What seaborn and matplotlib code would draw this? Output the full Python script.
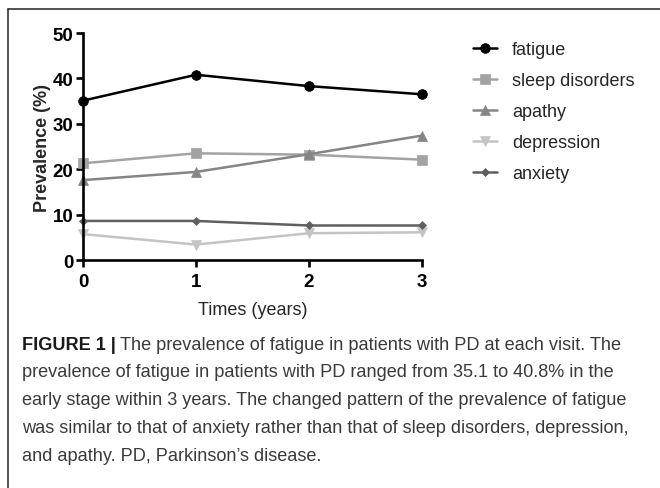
import numpy as np
import pandas as pd
import matplotlib
matplotlib.use("Agg")
import matplotlib.pyplot as plt
import seaborn as sns
from matplotlib.lines import Line2D

# data
years = [0, 1, 2, 3]
symptoms = ["fatigue", "sleep disorders", "apathy", "depression", "anxiety"]
fatigue = [35.1, 40.8, 38.3, 36.5]
sleep_disorders = [21.3, 23.5, 23.2, 22.1]
apathy = [17.6, 19.4, 23.3, 27.4]
depression = [5.7, 3.4, 5.9, 6.1]
anxiety = [8.6, 8.6, 7.6, 7.6]

colors = ["#000000", "#a3a3a3", "#858585", "#c4c4c4", "#5f5f5f"]
markers = ["o", "s", "^", "v", "D"]
msizes = [7, 6.5, 6.5, 6.5, 4.5]

caption = [
    "The prevalence of fatigue in patients with PD at each visit. The",
    "prevalence of fatigue in patients with PD ranged from 35.1 to 40.8% in the",
    "early stage within 3 years. The changed pattern of the prevalence of fatigue",
    "was similar to that of anxiety rather than that of sleep disorders, depression,",
    "and apathy. PD, Parkinson\u2019s disease.",
]

sns.set_style("ticks")
plt.rcParams["font.family"] = ["Liberation Sans", "DejaVu Sans"]

df = pd.DataFrame({
    "year": years * 5,
    "value": fatigue + sleep_disorders + apathy + depression + anxiety,
    "symptom": np.repeat(symptoms, len(years)),
})

W, H = 660, 489
fig = plt.figure(figsize=(W / 100, H / 100), dpi=100)
ax = fig.add_axes([83 / W, 1 - 261 / H, (422 - 83) / W, (261 - 34) / H])

for name, c, m, ms in zip(symptoms, colors, markers, msizes):
    sub = df[df["symptom"] == name]
    sns.lineplot(data=sub, x="year", y="value", color=c, marker=m,
                 markersize=ms, markeredgecolor=c, markeredgewidth=0.5,
                 linewidth=1.8, label=name, ax=ax, clip_on=False)

ax.set_xlim(0, 3)
ax.set_ylim(0, 50)
ax.set_xticks(years)
ax.set_yticks(range(0, 51, 10))
sns.despine(ax=ax)
for s in ["left", "bottom"]:
    ax.spines[s].set_linewidth(1.9)
    ax.spines[s].set_color("black")
ax.tick_params(axis="both", direction="out", length=5, width=1.9,
               labelsize=13.5, colors="black")
ax.tick_params(axis="x", pad=4.5)
ax.tick_params(axis="y", pad=2)
for lab in ax.get_xticklabels() + ax.get_yticklabels():
    lab.set_fontweight("bold")

ax.set_xlabel("Times (years)", fontsize=13, labelpad=8)
ax.set_ylabel("Prevalence (%)", fontsize=13, fontweight="bold", labelpad=1)

handles, labels = ax.get_legend_handles_labels()
ax.legend(handles, labels, loc="upper left",
          bbox_to_anchor=(473 / W, 1 - 42 / H), bbox_transform=fig.transFigure,
          frameon=False, fontsize=13, handlelength=1.35, handletextpad=0.8,
          labelspacing=0.78, borderpad=0, borderaxespad=0)

# caption
y0 = 345
cap_size = 13.1
head = fig.text(22 / W, 1 - y0 / H, "FIGURE 1 |", fontsize=cap_size,
                fontweight="bold", color="#1a1a1a", va="center", ha="left")
ax.annotate(caption[0], xy=(1, 0.5), xycoords=head, xytext=(3, 0),
            textcoords="offset points", fontsize=cap_size, color="#3a3a3a",
            va="center", ha="left", annotation_clip=False)
for i, line in enumerate(caption[1:], start=1):
    fig.text(22 / W, 1 - (y0 + 27.8 * i) / H, line, fontsize=cap_size,
             color="#3a3a3a", va="center", ha="left")

# frame lines of the figure panel
fig.add_artist(Line2D([8 / W, 1], [1 - 10 / H, 1 - 10 / H], color="#222222",
                      linewidth=1.1, transform=fig.transFigure))
fig.add_artist(Line2D([8 / W, 8 / W], [1 - 10 / H, 0], color="#222222",
                      linewidth=1.1, transform=fig.transFigure))

fig.savefig("out.png", dpi=100)
